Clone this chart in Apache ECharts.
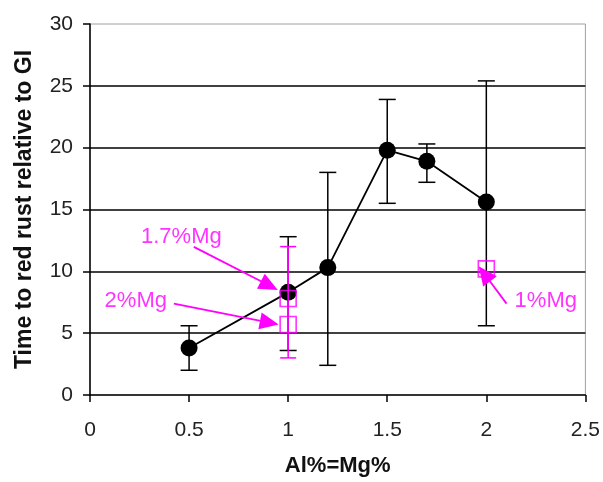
<!DOCTYPE html>
<html>
<head>
<meta charset="utf-8">
<script src="https://cdn.jsdelivr.net/npm/echarts@6/dist/echarts.min.js"></script>
<style>
  html, body { margin: 0; padding: 0; background: #fff; }
  #chart { width: 603px; height: 482px; }
</style>
</head>
<body>
<div id="chart"></div>
<script>
// Al% = Mg% series (black circles) with error bars
const alMg = [0.5, 1.0, 1.2, 1.5, 1.7, 2.0];
const timeRel = [3.8, 8.3, 10.3, 19.8, 18.9, 15.6];
const errHigh = [5.6, 12.8, 18.0, 23.9, 20.3, 25.4];
const errLow = [2.0, 3.6, 2.4, 15.5, 17.2, 5.6];

// fixed Mg series (pink squares)
const mgX = [1.0, 1.0, 2.0];
const mgTime = [7.8, 5.7, 10.2];
const mgErrX = [1.0];
const mgErrHigh = [12.0];
const mgErrLow = [3.0];

// annotations (data coords)
const noteText = ['1.7%Mg', '2%Mg', '1%Mg'];
const noteAt = [[0.461, 12.8], [0.231, 7.64], [2.30, 7.64]];
const arrowFrom = [[0.524, 11.98], [0.423, 7.39], [2.102, 7.39]];
const arrowTo = [[0.905, 8.85], [0.905, 5.85], [1.99, 9.8]];

const yTicks = [0, 5, 10, 15, 20, 25, 30];
const xTicks = [0, 0.5, 1, 1.5, 2, 2.5];

const PINK = '#ff00ff';
const FONT = '"Liberation Sans", Arial, sans-serif';

function errorBar(color, capHalf) {
  return function (params, api) {
    const x = api.value(0);
    const top = api.coord([x, api.value(1)]);
    const bot = api.coord([x, api.value(2)]);
    const style = { stroke: color, lineWidth: 1.5 };
    return {
      type: 'group',
      children: [
        { type: 'line', shape: { x1: top[0], y1: top[1], x2: bot[0], y2: bot[1] }, style: style },
        { type: 'line', shape: { x1: top[0] - capHalf, y1: top[1], x2: top[0] + capHalf, y2: top[1] }, style: style },
        { type: 'line', shape: { x1: bot[0] - capHalf, y1: bot[1], x2: bot[0] + capHalf, y2: bot[1] }, style: style }
      ]
    };
  };
}

let myChart = echarts.init(document.getElementById('chart'));

let option = {
  animation: false,
  backgroundColor: '#fff',
  grid: {
    left: 90, top: 24, right: 16, bottom: 85,
    show: true, borderColor: '#a0a0a0', borderWidth: 1
  },
  xAxis: {
    type: 'value', min: xTicks[0], max: xTicks[xTicks.length - 1], interval: 0.5,
    name: 'Al%=Mg%', nameLocation: 'middle', nameGap: 60,
    nameTextStyle: { fontFamily: FONT, fontSize: 22, fontWeight: 'bold', color: '#111' },
    axisLine: { lineStyle: { color: '#000', width: 1.5 } },
    axisTick: { inside: false, length: 7, lineStyle: { color: '#000', width: 1.5 } },
    axisLabel: { fontFamily: FONT, fontSize: 21, color: '#222', margin: 25 },
    splitLine: { show: false }
  },
  yAxis: {
    type: 'value', min: yTicks[0], max: yTicks[yTicks.length - 1], interval: 5,
    name: 'Time to red rust relative to GI', nameLocation: 'middle', nameGap: 54, nameRotate: 90,
    nameTextStyle: { fontFamily: FONT, fontSize: 23, fontWeight: 'bold', color: '#111' },
    axisLine: { show: true, lineStyle: { color: '#000', width: 1.5 } },
    axisTick: { show: true, inside: false, length: 7, lineStyle: { color: '#000', width: 1.5 } },
    axisLabel: { fontFamily: FONT, fontSize: 21, color: '#222', margin: 17 },
    splitLine: { show: true, showMinLine: false, showMaxLine: false, lineStyle: { color: '#000', width: 1.5 } }
  },
  series: [
    {
      type: 'custom',
      name: 'err',
      renderItem: errorBar('#000', 8.5),
      data: alMg.map((x, i) => [x, errHigh[i], errLow[i]]),
      z: 2
    },
    {
      type: 'line',
      name: 'Al=Mg',
      data: alMg.map((x, i) => [x, timeRel[i]]),
      symbol: 'circle', symbolSize: 17,
      lineStyle: { color: '#000', width: 1.8 },
      itemStyle: { color: '#000' },
      z: 3
    },
    {
      type: 'custom',
      name: 'mgErr',
      renderItem: errorBar(PINK, 8),
      data: mgErrX.map((x, i) => [x, mgErrHigh[i], mgErrLow[i]]),
      z: 4
    },
    {
      type: 'scatter',
      name: 'Mg',
      data: mgX.map((x, i) => [x, mgTime[i]]),
      symbol: 'rect', symbolSize: 16,
      itemStyle: { color: 'rgba(0,0,0,0)', borderColor: PINK, borderWidth: 1.6 },
      z: 5
    },
    {
      type: 'scatter',
      name: 'notes',
      data: noteAt.map((p, i) => ({ value: p, name: noteText[i] })),
      symbolSize: 1,
      itemStyle: { color: 'rgba(0,0,0,0)' },
      label: {
        show: true, position: 'inside', formatter: '{b}',
        fontFamily: FONT, fontSize: 22, color: PINK
      },
      markLine: {
        silent: true,
        symbol: ['none', 'triangle'],
        symbolSize: [17, 19],
        label: { show: false },
        lineStyle: { color: PINK, width: 1.8, type: 'solid' },
        data: arrowFrom.map((f, i) => [{ coord: f }, { coord: arrowTo[i] }])
      },
      z: 6
    }
  ]
};

myChart.setOption(option, true);
</script>
</body>
</html>
